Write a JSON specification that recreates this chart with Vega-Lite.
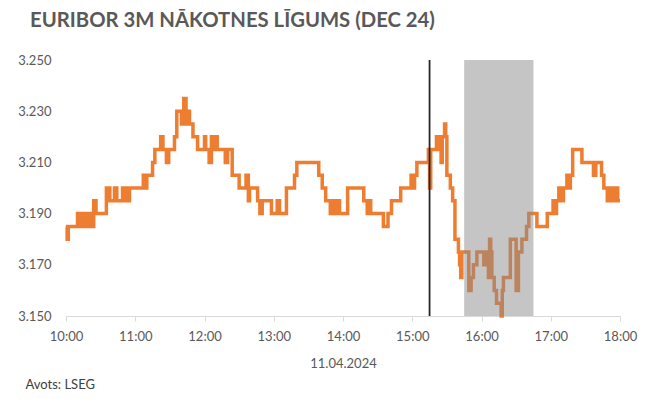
{
  "$schema": "https://vega.github.io/schema/vega-lite/v6.json",
  "background": "white",
  "autosize": {"type": "none"},
  "padding": {"left": 66, "top": 60, "right": 30, "bottom": 83},
  "width": 554,
  "height": 256,
  "title": {"text": "EURIBOR 3M NĀKOTNES LĪGUMS (DEC 24)", "anchor": "start", "frame": "group", "baseline": "alphabetic", "font": "Lato", "fontSize": 20.3, "fontWeight": "bold", "color": "#595959", "offset": 7, "dx": -36},
  "config": {"view": {"stroke": null}, "font": "Lato"},
  "layer": [
    {
      "data": {"values": [
        {"t":"2024-04-11T10:00:00","v":3.185},{"t":"2024-04-11T10:01:00","v":3.180},{"t":"2024-04-11T10:02:00","v":3.185},{"t":"2024-04-11T10:10:00","v":3.190},{"t":"2024-04-11T10:12:00","v":3.185},{"t":"2024-04-11T10:13:00","v":3.190},{"t":"2024-04-11T10:15:00","v":3.185},{"t":"2024-04-11T10:16:00","v":3.190},{"t":"2024-04-11T10:17:00","v":3.185},{"t":"2024-04-11T10:18:00","v":3.190},{"t":"2024-04-11T10:20:00","v":3.185},{"t":"2024-04-11T10:21:00","v":3.190},{"t":"2024-04-11T10:23:00","v":3.185},{"t":"2024-04-11T10:24:00","v":3.195},{"t":"2024-04-11T10:26:00","v":3.190},{"t":"2024-04-11T10:35:00","v":3.200},{"t":"2024-04-11T10:38:00","v":3.195},{"t":"2024-04-11T10:42:00","v":3.200},{"t":"2024-04-11T10:44:00","v":3.195},{"t":"2024-04-11T10:49:00","v":3.200},{"t":"2024-04-11T10:52:00","v":3.195},{"t":"2024-04-11T10:55:00","v":3.200},{"t":"2024-04-11T11:07:00","v":3.205},{"t":"2024-04-11T11:08:00","v":3.200},{"t":"2024-04-11T11:10:00","v":3.205},{"t":"2024-04-11T11:15:00","v":3.210},{"t":"2024-04-11T11:17:00","v":3.215},{"t":"2024-04-11T11:22:00","v":3.220},{"t":"2024-04-11T11:24:00","v":3.215},{"t":"2024-04-11T11:27:00","v":3.210},{"t":"2024-04-11T11:29:00","v":3.215},{"t":"2024-04-11T11:34:00","v":3.220},{"t":"2024-04-11T11:36:00","v":3.230},{"t":"2024-04-11T11:40:00","v":3.225},{"t":"2024-04-11T11:42:00","v":3.235},{"t":"2024-04-11T11:44:00","v":3.225},{"t":"2024-04-11T11:46:00","v":3.230},{"t":"2024-04-11T11:47:00","v":3.225},{"t":"2024-04-11T11:50:00","v":3.220},{"t":"2024-04-11T11:54:00","v":3.215},{"t":"2024-04-11T12:00:00","v":3.220},{"t":"2024-04-11T12:01:00","v":3.215},{"t":"2024-04-11T12:04:00","v":3.210},{"t":"2024-04-11T12:06:00","v":3.220},{"t":"2024-04-11T12:07:00","v":3.215},{"t":"2024-04-11T12:09:00","v":3.220},{"t":"2024-04-11T12:11:00","v":3.215},{"t":"2024-04-11T12:18:00","v":3.210},{"t":"2024-04-11T12:20:00","v":3.215},{"t":"2024-04-11T12:24:00","v":3.205},{"t":"2024-04-11T12:30:00","v":3.200},{"t":"2024-04-11T12:36:00","v":3.205},{"t":"2024-04-11T12:38:00","v":3.195},{"t":"2024-04-11T12:39:00","v":3.200},{"t":"2024-04-11T12:46:00","v":3.195},{"t":"2024-04-11T12:48:00","v":3.190},{"t":"2024-04-11T12:50:00","v":3.195},{"t":"2024-04-11T12:58:00","v":3.190},{"t":"2024-04-11T13:03:00","v":3.195},{"t":"2024-04-11T13:05:00","v":3.190},{"t":"2024-04-11T13:11:00","v":3.200},{"t":"2024-04-11T13:18:00","v":3.205},{"t":"2024-04-11T13:20:00","v":3.210},{"t":"2024-04-11T13:39:00","v":3.205},{"t":"2024-04-11T13:42:00","v":3.200},{"t":"2024-04-11T13:45:00","v":3.195},{"t":"2024-04-11T13:49:00","v":3.190},{"t":"2024-04-11T13:50:00","v":3.195},{"t":"2024-04-11T13:53:00","v":3.190},{"t":"2024-04-11T13:55:00","v":3.195},{"t":"2024-04-11T13:57:00","v":3.190},{"t":"2024-04-11T14:04:00","v":3.200},{"t":"2024-04-11T14:18:00","v":3.195},{"t":"2024-04-11T14:21:00","v":3.190},{"t":"2024-04-11T14:23:00","v":3.195},{"t":"2024-04-11T14:24:00","v":3.190},{"t":"2024-04-11T14:35:00","v":3.185},{"t":"2024-04-11T14:39:00","v":3.190},{"t":"2024-04-11T14:42:00","v":3.195},{"t":"2024-04-11T14:50:00","v":3.200},{"t":"2024-04-11T14:59:00","v":3.205},{"t":"2024-04-11T15:01:00","v":3.200},{"t":"2024-04-11T15:02:00","v":3.205},{"t":"2024-04-11T15:04:00","v":3.210},{"t":"2024-04-11T15:14:00","v":3.215},{"t":"2024-04-11T15:15:00","v":3.200},{"t":"2024-04-11T15:16:00","v":3.215},{"t":"2024-04-11T15:21:00","v":3.220},{"t":"2024-04-11T15:24:00","v":3.215},{"t":"2024-04-11T15:25:00","v":3.210},{"t":"2024-04-11T15:26:00","v":3.220},{"t":"2024-04-11T15:28:00","v":3.225},{"t":"2024-04-11T15:29:00","v":3.220},{"t":"2024-04-11T15:30:00","v":3.205},{"t":"2024-04-11T15:33:00","v":3.200},{"t":"2024-04-11T15:35:00","v":3.195},{"t":"2024-04-11T15:37:00","v":3.180},{"t":"2024-04-11T15:40:00","v":3.175},{"t":"2024-04-11T15:41:00","v":3.170},{"t":"2024-04-11T15:42:00","v":3.165},{"t":"2024-04-11T15:43:00","v":3.175},{"t":"2024-04-11T15:49:00","v":3.160},{"t":"2024-04-11T15:51:00","v":3.165},{"t":"2024-04-11T15:53:00","v":3.170},{"t":"2024-04-11T15:56:00","v":3.175},{"t":"2024-04-11T16:02:00","v":3.170},{"t":"2024-04-11T16:04:00","v":3.175},{"t":"2024-04-11T16:06:00","v":3.165},{"t":"2024-04-11T16:07:00","v":3.180},{"t":"2024-04-11T16:08:00","v":3.175},{"t":"2024-04-11T16:09:00","v":3.165},{"t":"2024-04-11T16:11:00","v":3.160},{"t":"2024-04-11T16:13:00","v":3.155},{"t":"2024-04-11T16:17:00","v":3.150},{"t":"2024-04-11T16:18:00","v":3.160},{"t":"2024-04-11T16:19:00","v":3.165},{"t":"2024-04-11T16:25:00","v":3.180},{"t":"2024-04-11T16:30:00","v":3.160},{"t":"2024-04-11T16:32:00","v":3.175},{"t":"2024-04-11T16:35:00","v":3.180},{"t":"2024-04-11T16:39:00","v":3.185},{"t":"2024-04-11T16:41:00","v":3.190},{"t":"2024-04-11T16:48:00","v":3.185},{"t":"2024-04-11T16:57:00","v":3.190},{"t":"2024-04-11T17:02:00","v":3.195},{"t":"2024-04-11T17:03:00","v":3.190},{"t":"2024-04-11T17:05:00","v":3.195},{"t":"2024-04-11T17:07:00","v":3.200},{"t":"2024-04-11T17:09:00","v":3.195},{"t":"2024-04-11T17:11:00","v":3.200},{"t":"2024-04-11T17:14:00","v":3.205},{"t":"2024-04-11T17:16:00","v":3.200},{"t":"2024-04-11T17:17:00","v":3.205},{"t":"2024-04-11T17:19:00","v":3.215},{"t":"2024-04-11T17:27:00","v":3.210},{"t":"2024-04-11T17:37:00","v":3.205},{"t":"2024-04-11T17:39:00","v":3.210},{"t":"2024-04-11T17:44:00","v":3.205},{"t":"2024-04-11T17:46:00","v":3.200},{"t":"2024-04-11T17:49:00","v":3.195},{"t":"2024-04-11T17:51:00","v":3.200},{"t":"2024-04-11T17:52:00","v":3.195},{"t":"2024-04-11T17:54:00","v":3.200},{"t":"2024-04-11T17:55:00","v":3.195},{"t":"2024-04-11T17:57:00","v":3.200},{"t":"2024-04-11T17:58:00","v":3.195},{"t":"2024-04-11T18:00:00","v":3.195}
      ]},
      "mark": {"type": "line", "color": "#ED7D31", "strokeWidth": 3.5, "interpolate": "step-after"},
      "encoding": {
        "x": {"field": "t", "type": "temporal",
          "scale": {"nice": false},
          "axis": {"title": "11.04.2024", "format": "%H:%M", "tickCount": 8, "grid": false, "domainColor": "#D9D9D9", "tickColor": "#D9D9D9", "tickSize": 5, "labelPadding": 9, "labelFontSize": 13, "labelColor": "#595959", "labelFlush": false, "titleFontSize": 13, "titleFontWeight": "normal", "titleColor": "#595959", "titlePadding": 14}},
        "y": {"field": "v", "type": "quantitative",
          "scale": {"domain": [3.15, 3.25], "nice": false, "zero": false},
          "axis": {"title": "Avots: LSEG", "titleAngle": 0, "titleAlign": "left", "titleBaseline": "alphabetic", "titleX": -41, "titleY": 328, "titleFontSize": 13, "titleFontWeight": "normal", "titleColor": "#404040", "values": [3.15, 3.17, 3.19, 3.21, 3.23, 3.25], "format": ".3f", "grid": false, "domain": false, "ticks": false, "labelPadding": 15, "labelFontSize": 13, "labelColor": "#595959"}}
      }
    },
    {
      "data": {"values": [{"s": "2024-04-11T15:45:00", "e": "2024-04-11T16:45:00"}]},
      "mark": {"type": "rect", "color": "#8C8C8C", "opacity": 0.5},
      "encoding": {"x": {"field": "s", "type": "temporal"}, "x2": {"field": "e"}}
    },
    {
      "data": {"values": [{"t": "2024-04-11T15:15:00"}]},
      "mark": {"type": "rule", "color": "#262626", "strokeWidth": 1.8},
      "encoding": {"x": {"field": "t", "type": "temporal"}}
    }
  ]
}
